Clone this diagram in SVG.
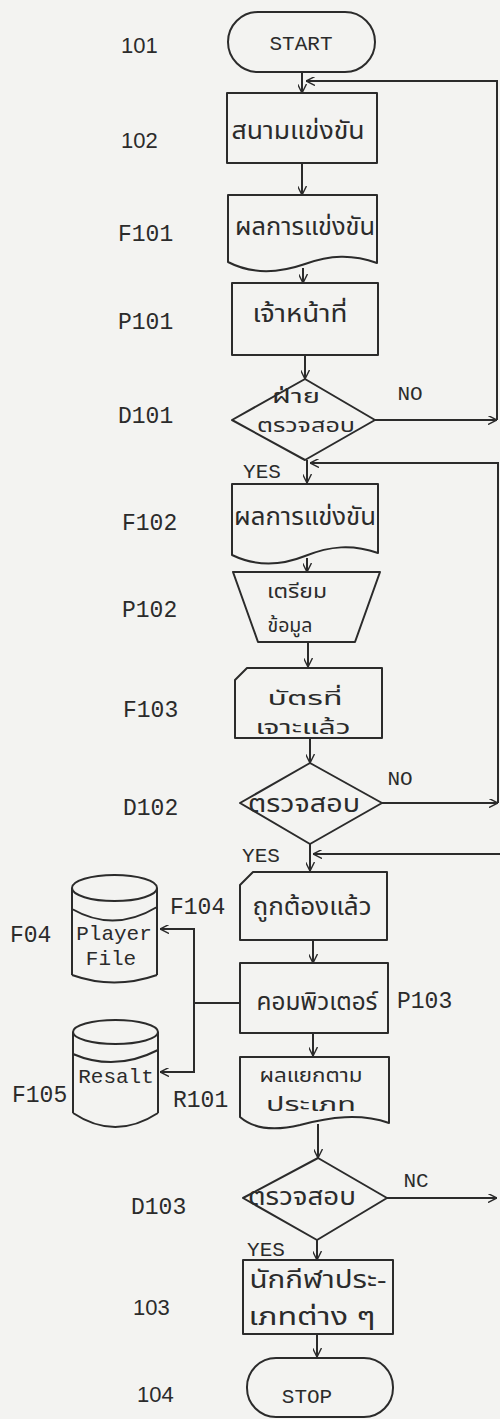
<svg xmlns="http://www.w3.org/2000/svg" width="500" height="1419" viewBox="0 0 500 1419">
<style>
.s{fill:none;stroke:#2b2b2b;stroke-width:2;stroke-linejoin:round}
.c{fill:none;stroke:#2b2b2b;stroke-width:2}
.th{font-family:"Noto Sans Thai","Noto Serif Thai",Loma,Garuda,Norasi,Kinnari,"DejaVu Sans",sans-serif;font-size:24px;fill:#2b2b2b;text-anchor:middle}
.t2{font-size:20px}
.tw{font-family:"Liberation Mono","DejaVu Sans Mono",monospace;font-size:21px;fill:#2b2b2b;text-anchor:middle}
.lb{font-family:"Liberation Mono","DejaVu Sans Mono",monospace;font-size:23px;fill:#2b2b2b}
.ln{font-family:"Liberation Sans","DejaVu Sans",sans-serif;font-size:22px;fill:#2b2b2b}
</style>
<defs>
<marker id="a" viewBox="0 0 10 10" refX="10" refY="5" markerWidth="9" markerHeight="9" markerUnits="userSpaceOnUse" orient="auto">
<path d="M0,0 L10,5 L0,10" fill="none" stroke="#2b2b2b" stroke-width="1.6"/>
</marker>
</defs>
<rect x="0" y="0" width="500" height="1419" fill="#f3f3f1"/>

<g id="labels">
<text class="ln" x="121" y="53">101</text>
<text class="ln" x="121" y="148">102</text>
<text class="lb" x="118" y="241">F101</text>
<text class="lb" x="118" y="329">P101</text>
<text class="lb" x="118" y="423">D101</text>
<text class="lb" x="122" y="530">F102</text>
<text class="lb" x="122" y="617">P102</text>
<text class="lb" x="123" y="717">F103</text>
<text class="lb" x="123" y="815">D102</text>
<text class="lb" x="170" y="914">F104</text>
<text class="lb" x="10" y="942">F04</text>
<text class="lb" x="397" y="1008">P103</text>
<text class="lb" x="12" y="1102">F105</text>
<text class="lb" x="173" y="1107">R101</text>
<text class="lb" x="131" y="1214">D103</text>
<text class="ln" x="133" y="1315">103</text>
<text class="ln" x="137" y="1402">104</text>
<text class="tw" x="410" y="400">NO</text>
<text class="tw" x="262" y="478">YES</text>
<text class="tw" x="400" y="785">NO</text>
<text class="tw" x="261" y="862">YES</text>
<text class="tw" x="416" y="1187">NC</text>
<text class="tw" x="266" y="1256">YES</text>
</g>

<g id="connectors">
<line class="c" x1="302" y1="72" x2="302" y2="93" marker-end="url(#a)"/>
<path class="c" d="M497,420 V81 H306" marker-end="url(#a)"/>
<line class="c" x1="302" y1="163" x2="302" y2="195" marker-end="url(#a)"/>
<line class="c" x1="303" y1="268" x2="303" y2="283" marker-end="url(#a)"/>
<line class="c" x1="305" y1="355" x2="305" y2="379" marker-end="url(#a)"/>
<line class="c" x1="375" y1="420" x2="497" y2="420" marker-end="url(#a)"/>
<line class="c" x1="307" y1="460" x2="307" y2="483" marker-end="url(#a)"/>
<path class="c" d="M498,803 V463 H310" marker-end="url(#a)"/>
<line class="c" x1="307" y1="558" x2="307" y2="572" marker-end="url(#a)"/>
<line class="c" x1="308" y1="642" x2="308" y2="667" marker-end="url(#a)"/>
<line class="c" x1="310" y1="738" x2="310" y2="763" marker-end="url(#a)"/>
<line class="c" x1="382" y1="803" x2="498" y2="803" marker-end="url(#a)"/>
<path class="c" d="M500,854 H313" marker-end="url(#a)"/>
<line class="c" x1="310" y1="844" x2="310" y2="871" marker-end="url(#a)"/>
<line class="c" x1="313" y1="940" x2="313" y2="963" marker-end="url(#a)"/>
<path class="c" d="M240,1003 H194"/>
<path class="c" d="M194,1003 V929 H160" marker-end="url(#a)"/>
<path class="c" d="M194,1003 V1072 H160" marker-end="url(#a)"/>
<line class="c" x1="313" y1="1033" x2="313" y2="1056" marker-end="url(#a)"/>
<line class="c" x1="318" y1="1124" x2="318" y2="1158" marker-end="url(#a)"/>
<line class="c" x1="387" y1="1198" x2="497" y2="1198" marker-end="url(#a)"/>
<line class="c" x1="317" y1="1240" x2="317" y2="1260" marker-end="url(#a)"/>
<line class="c" x1="317" y1="1334" x2="317" y2="1357" marker-end="url(#a)"/>
</g>

<g id="n101">
<rect class="s" x="228" y="12" width="147" height="60" rx="30"/>
<text class="tw" x="301" y="50">START</text>
</g>
<g id="n102">
<rect class="s" x="227" y="93" width="150" height="70"/>
<text class="th" x="298" y="139" textLength="133" lengthAdjust="spacingAndGlyphs">สนามแข่งขัน</text>
</g>
<g id="F101">
<path class="s" d="M228,195 H377 V263 C352,254 330,255 305,264 C282,272 255,276 228,262 Z"/>
<text class="th" x="305" y="235" textLength="140" lengthAdjust="spacingAndGlyphs">ผลการแข่งขัน</text>
</g>
<g id="P101">
<rect class="s" x="232" y="283" width="146" height="72"/>
<text class="th" x="300" y="322" textLength="95" lengthAdjust="spacingAndGlyphs">เจ้าหน้าที่</text>
</g>
<g id="D101">
<path class="s" d="M305,379 L375,420 L305,460 L232,420 Z"/>
<text class="th t2" x="296" y="403" textLength="48" lengthAdjust="spacingAndGlyphs">ฝ่าย</text>
<text class="th t2" x="306" y="432" textLength="98" lengthAdjust="spacingAndGlyphs">ตรวจสอบ</text>
</g>
<g id="F102">
<path class="s" d="M232,484 H378 V553 C352,544 330,546 305,556 C280,566 255,566 232,555 Z"/>
<text class="th" x="305" y="525" textLength="142" lengthAdjust="spacingAndGlyphs">ผลการแข่งขัน</text>
</g>
<g id="P102">
<path class="s" d="M233,572 L380,572 L355,642 L258,642 Z"/>
<text class="th t2" x="297" y="598" textLength="60" lengthAdjust="spacingAndGlyphs">เตรียม</text>
<text class="th t2" x="290" y="632" textLength="45" lengthAdjust="spacingAndGlyphs">ข้อมูล</text>
</g>
<g id="F103">
<path class="s" d="M235,680 L247,668 L382,668 L382,738 L235,738 Z"/>
<text class="th t2" x="305" y="705" textLength="75" lengthAdjust="spacingAndGlyphs">บัตรที่</text>
<text class="th t2" x="303" y="734" textLength="95" lengthAdjust="spacingAndGlyphs">เจาะแล้ว</text>
</g>
<g id="D102">
<path class="s" d="M310,763 L382,803 L310,844 L240,803 Z"/>
<text class="th" x="304" y="812" textLength="112" lengthAdjust="spacingAndGlyphs">ตรวจสอบ</text>
</g>
<g id="F104">
<path class="s" d="M240,885 L253,872 L387,872 L387,940 L240,940 Z"/>
<text class="th" x="312" y="915" textLength="119" lengthAdjust="spacingAndGlyphs">ถูกต้องแล้ว</text>
</g>
<g id="F04">
<ellipse class="s" cx="114.5" cy="888" rx="42.5" ry="13"/>
<path class="s" d="M72,909 Q114,933 157,907 M72,888 V975 M157,888 V975 M72,975 Q114,990 157,975"/>
<text class="tw" x="114" y="940">Player</text>
<text class="tw" x="111" y="965">File</text>
</g>
<g id="P103">
<rect class="s" x="240" y="963" width="148" height="70"/>
<text class="th" x="317" y="1010" textLength="121" lengthAdjust="spacingAndGlyphs">คอมพิวเตอร์</text>
</g>
<g id="F105">
<ellipse class="s" cx="115.5" cy="1032" rx="42.5" ry="12"/>
<path class="s" d="M73,1054 Q115,1072 158,1050 M73,1032 V1113 M158,1032 V1113 M73,1113 Q115,1141 158,1113"/>
<text class="tw" x="116" y="1083">Resalt</text>
</g>
<g id="R101">
<path class="s" d="M240,1057 H389 V1123 C360,1113 330,1117 300,1125 C275,1131 255,1130 240,1117 Z"/>
<text class="th t2" x="311" y="1082" textLength="103" lengthAdjust="spacingAndGlyphs">ผลแยกตาม</text>
<text class="th t2" x="311" y="1111" textLength="90" lengthAdjust="spacingAndGlyphs">ประเภท</text>
</g>
<g id="D103">
<path class="s" d="M318,1158 L387,1198 L317,1240 L243,1198 Z"/>
<text class="th" x="302" y="1205" textLength="108" lengthAdjust="spacingAndGlyphs">ตรวจสอบ</text>
</g>
<g id="n103">
<rect class="s" x="243" y="1260" width="150" height="74"/>
<text class="th" x="318" y="1288" textLength="137" lengthAdjust="spacingAndGlyphs">นักกีฬาประ-</text>
<text class="th" x="312" y="1325" textLength="127" lengthAdjust="spacingAndGlyphs">เภทต่าง ๆ</text>
</g>
<g id="n104">
<rect class="s" x="247" y="1358" width="146" height="59" rx="29"/>
<text class="tw" x="307" y="1403">STOP</text>
</g>
</svg>
